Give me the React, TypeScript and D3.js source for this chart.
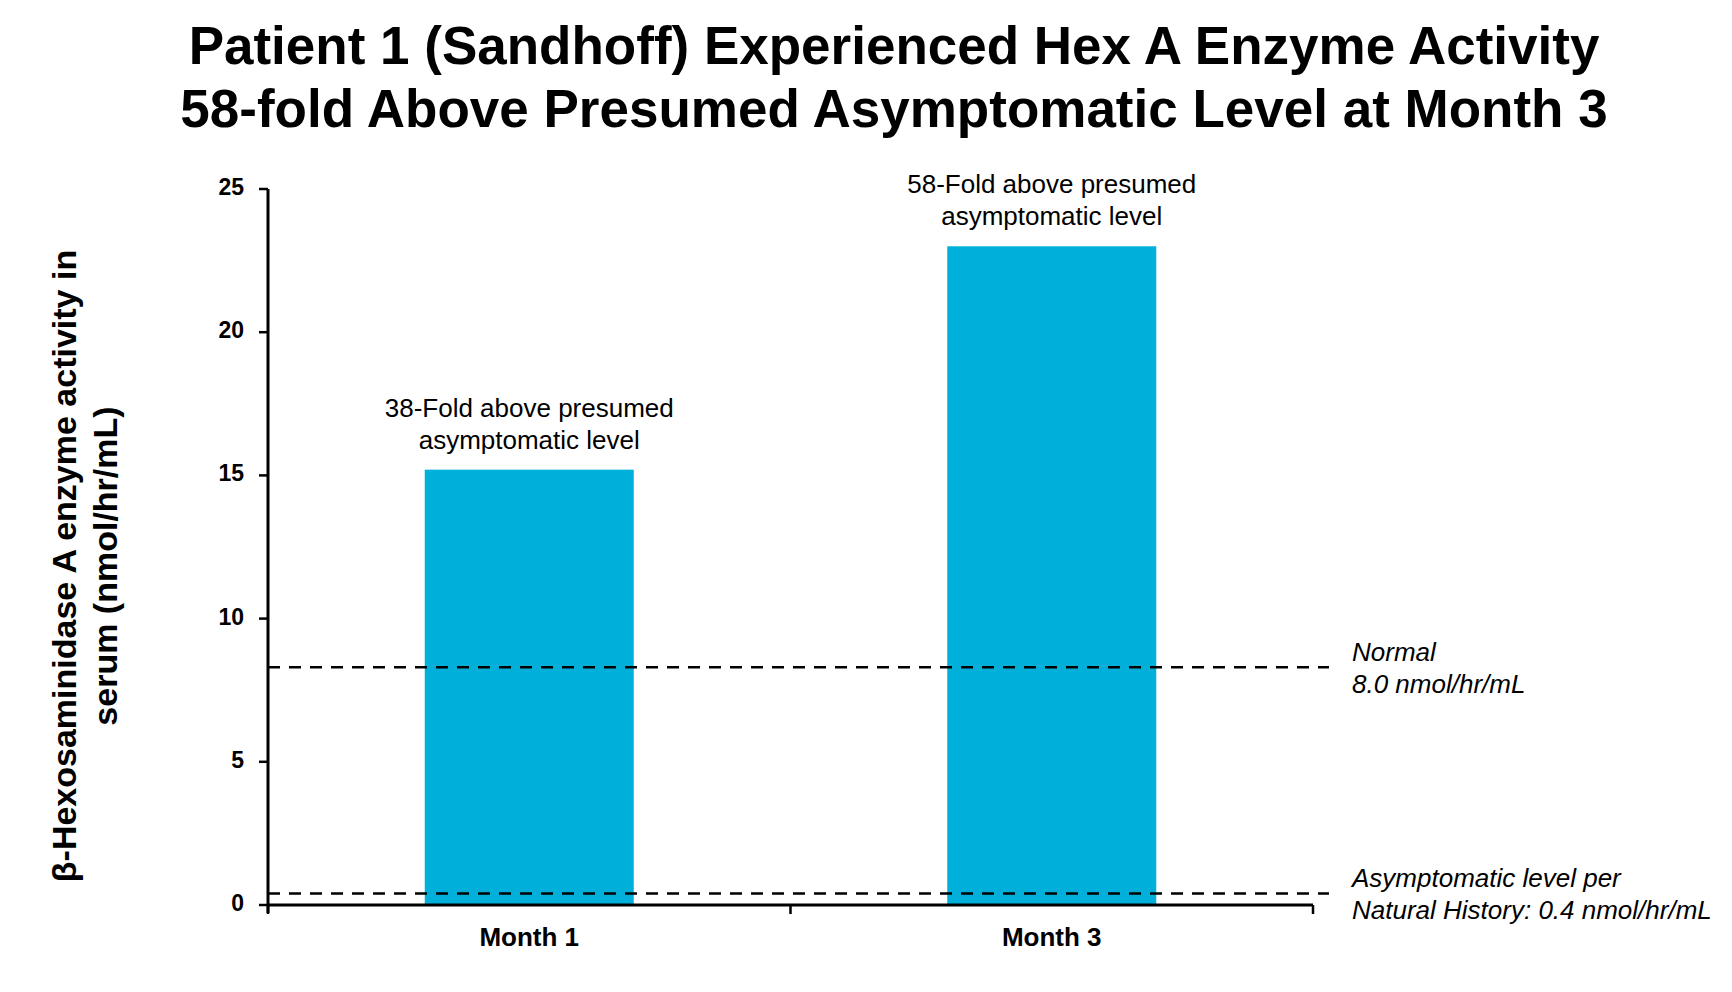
import * as d3 from "d3";

const categories = ["Month 1", "Month 3"];
const values = [15.2, 23.0];
const notes = [
  ["38-Fold above presumed", "asymptomatic level"],
  ["58-Fold above presumed", "asymptomatic level"],
];
const yTicks = [0, 5, 10, 15, 20, 25];
const refValues = [8.3, 0.4];
const refLabels = [
  ["Normal", "8.0 nmol/hr/mL"],
  ["Asymptomatic level per", "Natural History: 0.4 nmol/hr/mL"],
];

const W = 1732;
const H = 992;
const left = 268;
const right = 1313;
const top = 189;
const bottom = 905;
const font = "'Liberation Sans', Arial, sans-serif";

export default function App() {
  const x = d3.scaleBand().domain(categories).range([left, right]).paddingInner(0.6).paddingOuter(0.3);
  const y = d3.scaleLinear().domain([0, 25]).range([bottom, top]);
  const mid = (left + right) / 2;

  return (
    <svg width={W} height={H} style={{ display: "block", position: "absolute", left: 0, top: 0, fontFamily: font }}>
      <rect width={W} height={H} fill="#fff" />
      <text x={894} y={50} textAnchor="middle" dominantBaseline="middle" fontSize={53} fontWeight="bold">
        Patient 1 (Sandhoff) Experienced Hex A Enzyme Activity
      </text>
      <text x={894} y={113} textAnchor="middle" dominantBaseline="middle" fontSize={53} fontWeight="bold">
        58-fold Above Presumed Asymptomatic Level at Month 3
      </text>

      {categories.map((c, i) => (
        <g key={c}>
          <rect x={x(c)} y={y(values[i])} width={x.bandwidth()} height={y(0) - y(values[i])} fill="#00b0da" />
          {notes[i].map((t, j) => (
            <text key={j} x={x(c)! + x.bandwidth() / 2} y={y(values[i]) - 60 + j * 32}
              textAnchor="middle" dominantBaseline="middle" fontSize={26}>{t}</text>
          ))}
          <text x={x(c)! + x.bandwidth() / 2} y={939} textAnchor="middle" dominantBaseline="middle"
            fontSize={26} fontWeight="bold">{c}</text>
        </g>
      ))}

      {refValues.map((v, i) => (
        <g key={i}>
          <line x1={left} x2={1329} y1={y(v)} y2={y(v)} stroke="#000" strokeWidth={2.5} strokeDasharray="12,9" />
          {refLabels[i].map((t, j) => (
            <text key={j} x={1352} y={y(v) - 13 + j * 32} dominantBaseline="middle" fontSize={26} fontStyle="italic">{t}</text>
          ))}
        </g>
      ))}

      <line x1={left} x2={left} y1={top} y2={bottom + 8} stroke="#000" strokeWidth={3} />
      <line x1={left} x2={right} y1={bottom} y2={bottom} stroke="#000" strokeWidth={3} />
      {[left, mid, right].map((t, i) => (
        <line key={i} x1={t} x2={t} y1={bottom} y2={bottom + 9} stroke="#000" strokeWidth={2.5} />
      ))}
      {yTicks.map((t) => (
        <g key={t}>
          <line x1={left - 9} x2={left} y1={y(t)} y2={y(t)} stroke="#000" strokeWidth={2.5} />
          <text x={244} y={y(t)} textAnchor="end" dominantBaseline="middle" fontSize={23} fontWeight="bold">{t}</text>
        </g>
      ))}

      <text transform="translate(67,566) rotate(-90)" textAnchor="middle" dominantBaseline="middle" fontSize={34} fontWeight="bold">
        β-Hexosaminidase A enzyme activity in
      </text>
      <text transform="translate(108,566) rotate(-90)" textAnchor="middle" dominantBaseline="middle" fontSize={34} fontWeight="bold">
        serum (nmol/hr/mL)
      </text>
    </svg>
  );
}
